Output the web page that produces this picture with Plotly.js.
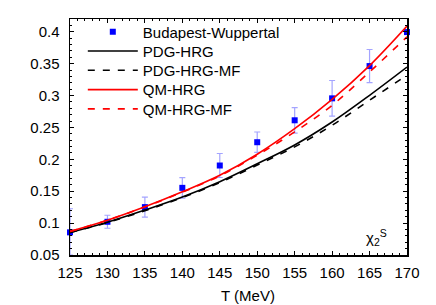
<!DOCTYPE html>
<html>
<head>
<meta charset="utf-8">
<script src="https://cdn.plot.ly/plotly-3.0.1.min.js"></script>
<style>html,body{margin:0;padding:0;background:#fff;}#chart{width:436px;height:305px;}</style>
</head>
<body>
<div id="chart"></div>
<script>
// Data
const T = [125, 130, 135, 140, 145, 150, 155, 160, 165, 170];
const bwT = [125, 130, 135, 140, 145, 150, 155, 160, 165, 170];
const bwChi = [0.0855, 0.1021, 0.1251, 0.1553, 0.1903, 0.2268, 0.2612, 0.2956, 0.3462, 0.3995];
const bwErrPlus = [0.037, 0.0102, 0.0156, 0.016, 0.0188, 0.016, 0.020, 0.028, 0.026, 0.0];
const bwErrMinus = [0.0355, 0.0102, 0.0156, 0.016, 0.0188, 0.016, 0.020, 0.028, 0.026, 0.0];
const pdgHrg = [0.0855, 0.1015, 0.1205, 0.1410, 0.1650, 0.1930, 0.2225, 0.2585, 0.3004, 0.3447];
const pdgHrgMf = [0.0850, 0.1010, 0.1195, 0.1400, 0.1635, 0.1910, 0.2195, 0.2534, 0.2926, 0.3320];
const qmHrg = [0.0870, 0.1045, 0.1255, 0.1490, 0.1750, 0.2080, 0.2480, 0.2940, 0.3470, 0.4090];
const qmHrgMf = [0.0870, 0.1045, 0.1255, 0.1485, 0.1740, 0.2065, 0.2430, 0.2847, 0.3370, 0.3920];
const names = ["Budapest-Wuppertal", "PDG-HRG", "PDG-HRG-MF", "QM-HRG", "QM-HRG-MF"];

const font = {family: "Liberation Sans, Arial, Helvetica, sans-serif", size: 15, color: "#000"};

const traces = [
  {x: bwT, y: bwChi, name: names[0], mode: "markers", type: "scatter",
   marker: {symbol: "square", size: 6, color: "#0000ff"},
   error_y: {type: "data", array: bwErrPlus, arrayminus: bwErrMinus, symmetric: false,
             color: "rgba(90,90,255,0.55)", thickness: 1.2, width: 3},
   cliponaxis: false},
  {x: T, y: pdgHrg, name: names[1], mode: "lines", line: {color: "#000", width: 1.6, shape: "spline"}},
  {x: T, y: pdgHrgMf, name: names[2], mode: "lines", line: {color: "#000", width: 1.6, dash: "7px,8px", shape: "spline"}},
  {x: T, y: qmHrg, name: names[3], mode: "lines", line: {color: "#ff0000", width: 1.6, shape: "spline"}},
  {x: T, y: qmHrgMf, name: names[4], mode: "lines", line: {color: "#ff0000", width: 1.6, dash: "7px,8px", shape: "spline"}}
];

const axisCommon = {
  showgrid: false, zeroline: false, showline: true, mirror: "ticks",
  linecolor: "#000", linewidth: 1.5, ticks: "inside", ticklen: 4, tickwidth: 1, tickcolor: "#000",
  tickfont: font
};

const layout = {
  width: 436, height: 305,
  margin: {l: 70, r: 29, t: 19, b: 50},
  paper_bgcolor: "#fff", plot_bgcolor: "#fff",
  font: font,
  showlegend: true,
  legend: {x: 0.038, y: 1.015, xanchor: "left", yanchor: "top", bgcolor: "rgba(0,0,0,0)",
           font: font, tracegroupgap: 0, itemwidth: 50},
  xaxis: Object.assign({}, axisCommon, {range: [125, 170], dtick: 5, tick0: 125, ticklabelstandoff: 3,
           minor: {dtick: 1, ticks: "inside", ticklen: 2, tickcolor: "#000"}}),
  yaxis: Object.assign({}, axisCommon, {range: [0.05, 0.42], dtick: 0.05, tick0: 0.05, ticklabelstandoff: 6,
           minor: {dtick: 0.01, ticks: "inside", ticklen: 2, tickcolor: "#000"}}),
  annotations: [
    {text: "T (MeV)", xref: "paper", yref: "paper", x: 0.527, y: -0.17, xanchor: "center", yanchor: "middle",
     showarrow: false, font: font},
    {text: "χ<sub>2</sub><sup>S</sup>", xref: "paper", yref: "paper", x: 0.91, y: 0.075,
     xanchor: "center", yanchor: "middle", showarrow: false, font: font}
  ]
};

Plotly.newPlot("chart", traces, layout, {displayModeBar: false, staticPlot: true}).then(function (gd) {
  // tighten legend row spacing to match the reference
  const items = gd.querySelectorAll(".legend .traces");
  let y0 = null;
  items.forEach(function (g, i) {
    const tr = g.getAttribute("transform") || "";
    const m = tr.match(/translate\(\s*([-\d.]+)[ ,]+([-\d.]+)\s*\)/);
    if (!m) return;
    const x = parseFloat(m[1]);
    const y = parseFloat(m[2]);
    if (y0 === null) y0 = y;
    g.setAttribute("transform", "translate(" + x + "," + (y0 + i * 19.3) + ")");
  });
});
</script>
</body>
</html>
